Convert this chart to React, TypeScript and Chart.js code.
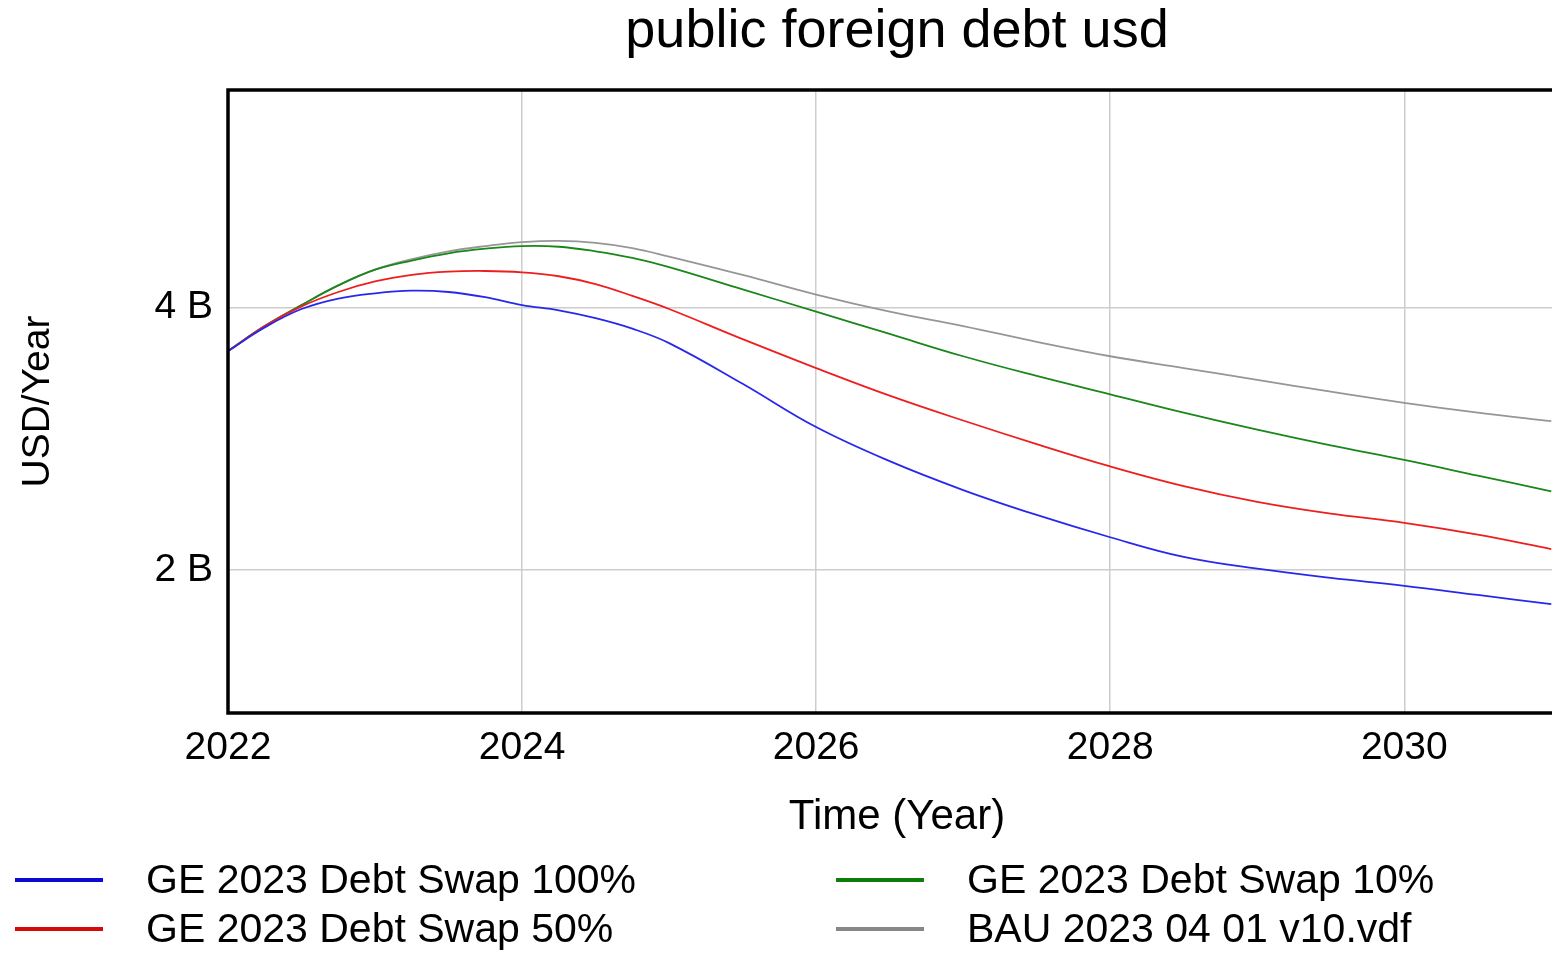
import React, { useEffect, useRef } from 'react';
import { Chart, registerables } from 'chart.js';

Chart.register(...registerables);

// ---- data (values in billions of USD/Year) ----
const YEARS = [
  2022, 2022.25, 2022.5, 2022.75, 2023, 2023.25, 2023.5, 2023.75, 2024, 2024.25, 2024.5, 2024.75,
  2025, 2025.5, 2026, 2026.5, 2027, 2027.5, 2028, 2028.5, 2029, 2029.5, 2030, 2030.5, 2031,
];
const SWAP_100 = [
  3.67, 3.85, 3.99, 4.07, 4.11, 4.13, 4.12, 4.08, 4.02, 3.98, 3.92, 3.84,
  3.73, 3.42, 3.09, 2.83, 2.61, 2.42, 2.25, 2.1, 2.01, 1.94, 1.88, 1.81, 1.74,
];
const SWAP_50 = [
  3.67, 3.86, 4.01, 4.12, 4.2, 4.25, 4.275, 4.28, 4.27, 4.24, 4.18, 4.09,
  3.99, 3.76, 3.54, 3.33, 3.14, 2.96, 2.79, 2.64, 2.52, 2.43, 2.36, 2.27, 2.16,
];
const SWAP_10 = [
  3.67, 3.86, 4.02, 4.17, 4.29, 4.36, 4.415, 4.45, 4.47, 4.465, 4.43, 4.38,
  4.31, 4.14, 3.97, 3.8, 3.63, 3.48, 3.34, 3.2, 3.07, 2.95, 2.84, 2.72, 2.6,
];
const BAU = [
  3.67, 3.86, 4.02, 4.17, 4.29, 4.37, 4.43, 4.47, 4.5, 4.51, 4.495, 4.455,
  4.39, 4.25, 4.1, 3.97, 3.86, 3.74, 3.63, 3.54, 3.45, 3.36, 3.275, 3.2, 3.135,
];
const SERIES_LABELS = [
  'GE 2023 Debt Swap 100%',
  'GE 2023 Debt Swap 50%',
  'GE 2023 Debt Swap 10%',
  'BAU 2023 04 01 v10.vdf',
];
const X_TICKS = [2022, 2024, 2026, 2028, 2030];
const Y_TICKS = [2, 4];
const TITLE = 'public foreign debt usd';
const X_TITLE = 'Time (Year)';
const Y_TITLE = 'USD/Year';

const FONT = '"Liberation Sans", Arial, sans-serif';
const LINE_COLORS = ['rgb(40,40,235)', 'rgb(238,30,30)', 'rgb(25,135,25)', 'rgb(150,150,150)'];
const SWATCH_COLORS = ['rgb(10,10,210)', 'rgb(215,10,10)', 'rgb(10,125,10)', 'rgb(135,135,135)'];

const decorPlugin = {
  id: 'decor',
  afterDatasetsDraw(chart: any) {
    const { ctx, chartArea: a } = chart;
    ctx.save();
    // frame
    ctx.strokeStyle = '#000';
    ctx.lineWidth = 3.5;
    ctx.strokeRect(a.left, a.top, a.right - a.left, a.bottom - a.top);

    ctx.fillStyle = '#000';
    ctx.textBaseline = 'alphabetic';
    // title
    ctx.textAlign = 'center';
    ctx.font = `54px ${FONT}`;
    ctx.fillText(TITLE, (a.left + a.right) / 2, 47);
    // x axis title
    ctx.font = `42px ${FONT}`;
    ctx.fillText(X_TITLE, (a.left + a.right) / 2, 829);
    // y axis title
    ctx.save();
    ctx.translate(38, (a.top + a.bottom) / 2);
    ctx.rotate(-Math.PI / 2);
    ctx.textBaseline = 'middle';
    ctx.font = `39px ${FONT}`;
    ctx.fillText(Y_TITLE, 0, 0);
    ctx.restore();

    // legend: two columns, column-major order
    const colX = [15, 836];
    const rowY = [880, 929];
    ctx.font = `41px ${FONT}`;
    ctx.textAlign = 'left';
    ctx.textBaseline = 'middle';
    SERIES_LABELS.forEach((label, i) => {
      const col = Math.floor(i / 2);
      const row = i % 2;
      const x = colX[col];
      const y = rowY[row];
      ctx.strokeStyle = SWATCH_COLORS[i];
      ctx.lineWidth = 4;
      ctx.beginPath();
      ctx.moveTo(x, y);
      ctx.lineTo(x + 88, y);
      ctx.stroke();
      ctx.fillStyle = '#000';
      ctx.fillText(label, x + 131, y + 2);
    });
    ctx.restore();
  },
};

export default function App() {
  const canvasRef = useRef<HTMLCanvasElement | null>(null);

  useEffect(() => {
    document.body.style.margin = '0';
    const canvas = canvasRef.current;
    if (!canvas) return;
    const seriesData = [SWAP_100, SWAP_50, SWAP_10, BAU];
    const chart = new Chart(canvas, {
      type: 'line',
      data: {
        datasets: seriesData.map((vals, i) => ({
          label: SERIES_LABELS[i],
          data: YEARS.map((x, j) => ({ x, y: vals[j] })),
          borderColor: LINE_COLORS[i],
          backgroundColor: LINE_COLORS[i],
          borderWidth: 1.8,
          pointRadius: 0,
          tension: 0.4,
          fill: false,
        })),
      },
      options: {
        responsive: false,
        animation: false,
        devicePixelRatio: 1,
        layout: { padding: { top: 90, left: 0, right: 0, bottom: 0 } },
        plugins: {
          legend: { display: false },
          title: { display: false },
          tooltip: { enabled: false },
        },
        scales: {
          x: {
            type: 'linear',
            min: 2022,
            max: 2031.1,
            afterBuildTicks: (scale: any) => {
              scale.ticks = X_TICKS.map((v) => ({ value: v }));
            },
            afterFit: (scale: any) => {
              scale.height = 954 - 713;
            },
            grid: { color: 'rgb(205,205,205)', lineWidth: 1.5, drawTicks: false },
            border: { display: false },
            ticks: {
              color: '#000',
              font: { family: FONT, size: 39 },
              padding: 12,
              maxRotation: 0,
              callback: (v: any) => String(v),
            },
          },
          y: {
            type: 'linear',
            min: 0.91,
            max: 5.66,
            afterBuildTicks: (scale: any) => {
              scale.ticks = Y_TICKS.map((v) => ({ value: v }));
            },
            afterFit: (scale: any) => {
              scale.width = 228;
            },
            grid: { color: 'rgb(205,205,205)', lineWidth: 1.5, drawTicks: false },
            border: { display: false },
            ticks: {
              color: '#000',
              font: { family: FONT, size: 39 },
              padding: 15,
              callback: (v: any) => `${v} B`,
            },
          },
        },
      },
      plugins: [decorPlugin],
    });
    return () => chart.destroy();
  }, []);

  return (
    <div
      style={{
        position: 'fixed',
        left: 0,
        top: 0,
        width: 1552,
        height: 954,
        overflow: 'hidden',
        background: '#fff',
      }}
    >
      <canvas ref={canvasRef} width={1566} height={954} style={{ display: 'block' }} />
    </div>
  );
}
